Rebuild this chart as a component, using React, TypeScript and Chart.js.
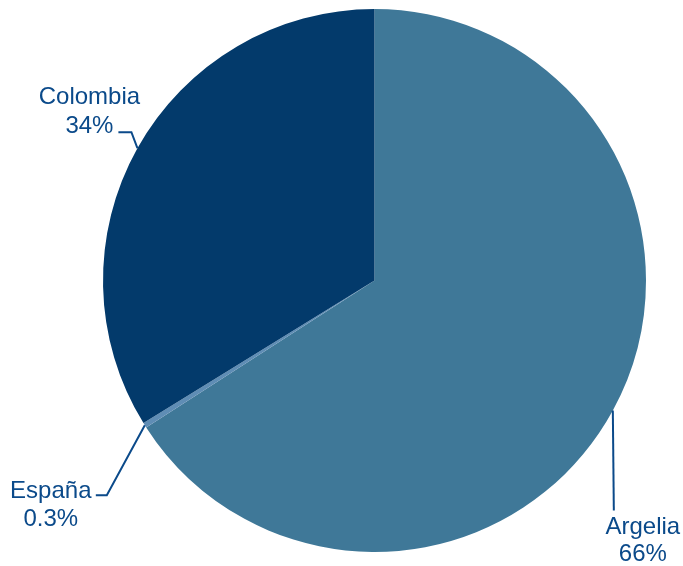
import React, { useEffect, useRef } from "react";
import { Chart, registerables } from "chart.js";

Chart.register(...registerables);

const countries = ["Argelia", "España", "Colombia"];
const shares = [65.9, 0.3, 33.8];
const shareLabels = ["66%", "0.3%", "34%"];
const sliceColors = ["#3f7898", "#5f8db5", "#033a6b"];

// leader-line layout per slice, offsets from the slice's outer mid-point
const leaderLayout = [
  { elbow: [1, 100], end: [1, 100], text: [30, 117], lh: 27 },
  { elbow: [-38, 70], end: [-49, 70], text: [-94, 66], lh: 28 },
  { elbow: [-6, -16], end: [-19, -16], text: [-48, -51], lh: 29 },
];

const TEXT_COLOR = "#0b4a8a";

const labelPlugin = {
  id: "leaderLabels",
  afterDraw(chart: any) {
    const ctx = chart.ctx;
    const meta = chart.getDatasetMeta(0);
    ctx.save();
    meta.data.forEach((arc: any, i: number) => {
      const { x, y, startAngle, endAngle, outerRadius } = arc.getProps(
        ["x", "y", "startAngle", "endAngle", "outerRadius"],
        true
      );
      const mid = (startAngle + endAngle) / 2;
      const ax = x + Math.cos(mid) * outerRadius;
      const ay = y + Math.sin(mid) * outerRadius;
      const L = leaderLayout[i];
      ctx.strokeStyle = TEXT_COLOR;
      ctx.lineWidth = 2;
      ctx.beginPath();
      ctx.moveTo(ax, ay);
      ctx.lineTo(ax + L.elbow[0], ay + L.elbow[1]);
      ctx.lineTo(ax + L.end[0], ay + L.end[1]);
      ctx.stroke();
      ctx.fillStyle = TEXT_COLOR;
      ctx.font = '24px "Liberation Sans", Arial, sans-serif';
      ctx.textAlign = "center";
      ctx.textBaseline = "middle";
      const tx = ax + L.text[0];
      const ty = ay + L.text[1];
      ctx.fillText(countries[i], tx, ty);
      ctx.fillText(shareLabels[i], tx, ty + L.lh);
    });
    ctx.restore();
  },
};

export default function App() {
  const ref = useRef<HTMLCanvasElement>(null);
  useEffect(() => {
    document.body.style.margin = "0";
    const chart = new Chart(ref.current!, {
      type: "pie",
      data: {
        labels: countries,
        datasets: [
          {
            data: shares,
            backgroundColor: sliceColors,
            borderWidth: 0,
          },
        ],
      },
      options: {
        animation: false,
        responsive: false,
        maintainAspectRatio: false,
        layout: { padding: { top: 9, bottom: 14, left: 103, right: 37 } },
        plugins: {
          legend: { display: false },
          tooltip: { enabled: false },
        },
      },
      plugins: [labelPlugin],
    });
    return () => chart.destroy();
  }, []);
  return (
    <div style={{ width: 683, height: 566, background: "#fff" }}>
      <canvas ref={ref} width={683} height={566} />
    </div>
  );
}
